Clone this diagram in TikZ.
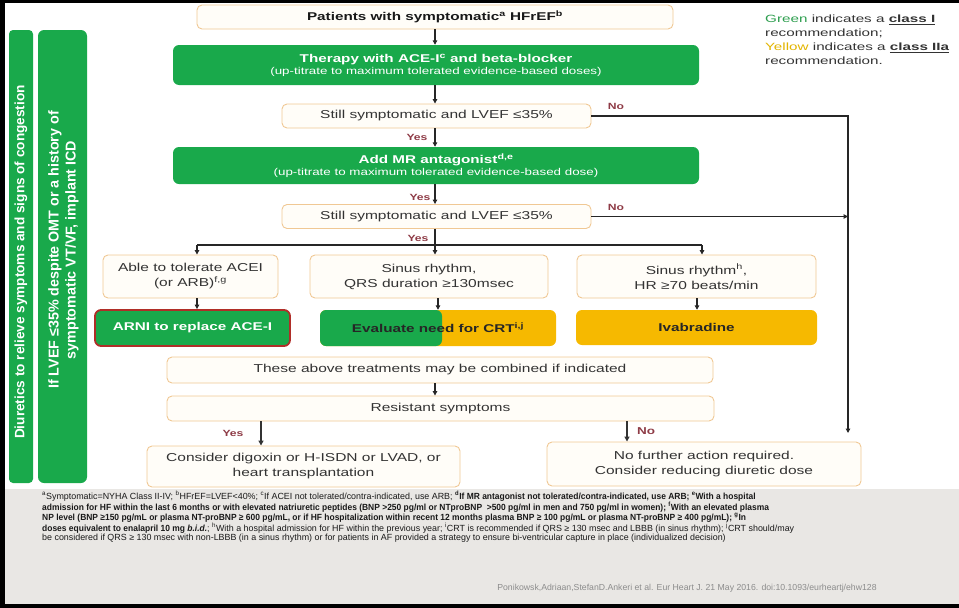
\documentclass[tikz,border=0pt]{standalone}
\usepackage{fontspec}
\setmainfont{Liberation Sans}
\newfontfamily\wf{Liberation Sans}[FakeStretch=1.35]
\newfontfamily\wfl{Liberation Sans}[FakeStretch=1.45]
\newfontfamily\fnf{Liberation Sans}[BoldFeatures={FakeStretch=0.95},BoldItalicFeatures={FakeStretch=0.95}]
\usetikzlibrary{arrows.meta}
\definecolor{hfgreen}{HTML}{19A94B}
\definecolor{hfyellow}{HTML}{F6B900}
\definecolor{boxline}{HTML}{F0C894}
\definecolor{boxfill}{HTML}{FFFDF8}
\definecolor{lblred}{HTML}{8E3B46}
\definecolor{fnbg}{HTML}{E9E7E4}
\definecolor{arnired}{HTML}{B02E28}
\definecolor{txtgray}{HTML}{333333}
\definecolor{legyellow}{HTML}{E2B400}
\definecolor{leggreen}{HTML}{2E9E4F}
\begin{document}
\begin{tikzpicture}[x=1pt,y=-1pt,
  pbox/.style={draw=boxline, fill=boxfill, rounded corners=5pt, line width=0.9pt, inner sep=0pt,
    text=txtgray, align=center, font=\wf\fontsize{11.5}{15}\selectfont},
  gbox/.style={fill=hfgreen, rounded corners=6pt, inner sep=0pt, text=white, align=center,
    font=\wf\bfseries\fontsize{11.3}{13}\selectfont},
  ybox/.style={fill=hfyellow, rounded corners=6pt, inner sep=0pt, text=black!85, align=center,
    font=\wf\bfseries\fontsize{11.3}{13}\selectfont},
  arr/.style={-{Triangle[length=4.5pt,width=4.5pt]}, line width=1.2pt, draw=black!85},
  arrthick/.style={-{Triangle[length=5pt,width=5pt]}, line width=2pt, draw=black!80},
  ln/.style={line width=1.2pt, draw=black!85},
  lbl/.style={text=lblred, font=\wf\bfseries\fontsize{9}{10}\selectfont, inner sep=0pt},
  bartxt/.style={rotate=90, text=white, align=center}
]
\useasboundingbox (0,0) rectangle (959,608);
% frame and footnote area
\fill[fnbg] (5,489) rectangle (959,604);
\fill[black] (0,0) rectangle (959,3);
\fill[black] (0,0) rectangle (5,608);
\fill[black] (0,604) rectangle (959,608);

% vertical green bars
\node[fill=hfgreen, rounded corners=4pt, minimum width=24, minimum height=453, inner sep=0pt] (bar1) at (21,256.5) {};
\node[fill=hfgreen, rounded corners=6pt, minimum width=49, minimum height=453, inner sep=0pt] (bar2) at (62.5,256.5) {};
\node[bartxt, font=\bfseries\fontsize{13.6}{16.5}\selectfont] (bar1t) at (21,262) {Diuretics to relieve symptoms and signs of congestion};
\node[bartxt, font=\bfseries\fontsize{14.3}{17}\selectfont] (bar2t) at (63.5,250) {If LVEF ≤35\% despite OMT or a history of\\symptomatic VT/VF, implant ICD};

% legend
\node[anchor=north west, align=left, inner sep=0pt, text=txtgray,
  font=\wfl\fontsize{10.5}{14}\selectfont] (legend) at (765,15)
  {\textcolor{leggreen}{Green} indicates a \textbf{\underline{class I}}\\
   recommendation;\\
   \textcolor{legyellow}{Yellow} indicates a \textbf{\underline{class IIa}}\\
   recommendation.};

% flowchart boxes
\node[pbox, minimum width=476, minimum height=24, font=\wf\bfseries\fontsize{11.3}{13}\selectfont, text=black!90] (p1) at (435,17)
  {Patients with symptomatic\textsuperscript{a} HFrEF\textsuperscript{b}};
\node[gbox, minimum width=526, minimum height=40] (g1) at (436,65)
  {Therapy with ACE-I\textsuperscript{c} and beta-blocker\\[-1pt]
   {\mdseries\fontsize{9.9}{11}\selectfont (up-titrate to maximum tolerated evidence-based doses)}};
\node[pbox, minimum width=309, minimum height=24] (s1) at (436.5,116)
  {Still symptomatic and LVEF ≤35\%};
\node[gbox, minimum width=526, minimum height=37] (g2) at (436,165.5)
  {Add MR antagonist\textsuperscript{d,e}\\[-1pt]
   {\mdseries\fontsize{9.9}{11}\selectfont (up-titrate to maximum tolerated evidence-based dose)}};
\node[pbox, minimum width=309, minimum height=24] (s2) at (436.5,216.5)
  {Still symptomatic and LVEF ≤35\%};

\node[pbox, minimum width=175, minimum height=43] (able) at (190.5,276.5)
  {Able to tolerate ACEI\\(or ARB)\textsuperscript{f,g}};
\node[pbox, minimum width=238, minimum height=43] (qrs) at (429,276.5)
  {Sinus rhythm,\\QRS duration ≥130msec};
\node[pbox, minimum width=239, minimum height=43] (hr) at (696.5,276.5)
  {Sinus rhythm\textsuperscript{h},\\HR ≥70 beats/min};

\node[gbox, draw=arnired, line width=1.8pt, minimum width=195, minimum height=36] (arni) at (192.5,328)
  {ARNI to replace ACE-I};
\node[ybox, minimum width=236, minimum height=36,
  path picture={\fill[hfgreen] (path picture bounding box.south west) rectangle ([xshift=4pt]path picture bounding box.north);}]
  (crt) at (438,328) {Evaluate need for CRT\textsuperscript{i,j}};
\node[ybox, minimum width=241, minimum height=35] (ivab) at (696.5,327.5) {Ivabradine};

\node[pbox, minimum width=546, minimum height=26] (comb) at (440,370)
  {These above treatments may be combined if indicated};
\node[pbox, minimum width=547, minimum height=25] (res) at (440.5,408.5)
  {Resistant symptoms};
\node[pbox, minimum width=313, minimum height=41] (cons) at (303.5,466.5)
  {Consider digoxin or H-ISDN or LVAD, or\\heart transplantation};
\node[pbox, minimum width=314, minimum height=44] (nofur) at (704,464)
  {No further action required.\\Consider reducing diuretic dose};

% helper coordinates
\coordinate (mc) at (435,0);
\coordinate (bl) at (197,245);
\coordinate (bm) at (435,245);
\coordinate (br) at (702,245);
\coordinate (rcor) at (848,116);
\coordinate (rend) at (848,433);
\coordinate (crtx) at (438,0);
\coordinate (hrx) at (697,0);
\coordinate (ycor) at (261,0);
\coordinate (ncor) at (627,0);

% connectors
\draw[arr] (p1.south -| mc) -- (g1.north -| mc);
\draw[arr] (g1.south -| mc) -- (s1.north -| mc);
\draw[arr] (s1.south -| mc) -- (g2.north -| mc);
\draw[arr] (g2.south -| mc) -- (s2.north -| mc);
\draw[arr] (s2.south -| mc) -- (qrs.north -| mc);
\draw[ln] (bl) -- (br);
\draw[arr] (bl) -- (able.north -| bl);
\draw[arr] (br) -- (hr.north -| br);
\draw[arr] (able.south -| bl) -- (arni.north -| bl);
\draw[arr] (qrs.south -| crtx) -- (crt.north -| crtx);
\draw[arr] (hr.south -| hrx) -- (ivab.north -| hrx);
\draw[arr] (comb.south -| mc) -- (res.north -| mc);
\draw[arr] (s1.east) -- (rcor) -- (rend);
\draw[arr] (s2.east) -- (s2.east -| rcor);
\draw[arrthick] (res.south -| ycor) -- (cons.north -| ycor);
\draw[arrthick] (res.south -| ncor) -- (nofur.north -| ncor);

% labels
\node[lbl] (no1) at (616,106) {No};
\node[lbl] (no2) at (616,207) {No};
\node[lbl] (yes1) at (417,137) {Yes};
\node[lbl] (yes2) at (420,197) {Yes};
\node[lbl] (yes3) at (418,238) {Yes};
\node[lbl] (yes4) at (233,433) {Yes};
\node[lbl, font=\wf\bfseries\fontsize{10}{11}\selectfont] (no3) at (646,431) {No};

% footnotes
\node[anchor=north west, align=left, inner sep=0pt, text=black!90,
  font=\fnf\fontsize{8.9}{9.4}\selectfont] (fn) at (42,491)
{\textsuperscript{a}Symptomatic=NYHA Class II-IV; \textsuperscript{b}HFrEF=LVEF<40\%; \textsuperscript{c}If ACEI not tolerated/contra-indicated, use ARB; \textbf{\textsuperscript{d}If MR antagonist not tolerated/contra-indicated, use ARB; \textsuperscript{e}With a hospital}\\
\textbf{admission for HF within the last 6 months or with elevated natriuretic peptides (BNP >250 pg/ml or NTproBNP \ >500 pg/ml in men and 750 pg/ml in women); \textsuperscript{f}With an elevated plasma}\\
\textbf{NP level (BNP ≥150 pg/mL or plasma NT-proBNP ≥ 600 pg/mL, or if HF hospitalization within recent 12 months plasma BNP ≥ 100 pg/mL or plasma NT-proBNP ≥ 400 pg/mL); \textsuperscript{g}In}\\
\textbf{doses equivalent to enalapril 10 mg \textit{b.i.d.}}; \textsuperscript{h}With a hospital admission for HF within the previous year; \textsuperscript{i}CRT is recommended if QRS ≥ 130 msec and LBBB (in sinus rhythm); \textsuperscript{j}CRT should/may\\
be considered if QRS ≥ 130 msec with non-LBBB (in a sinus rhythm) or for patients in AF provided a strategy to ensure bi-ventricular capture in place (individualized decision)};

\node[text=black!45, font=\fontsize{8.7}{10}\selectfont, inner sep=0pt] (cite) at (687,588)
  {Ponikowsk,Adriaan,StefanD.Ankeri et al. Eur Heart J. 21 May 2016. doi:10.1093/eurheartj/ehw128};
\end{tikzpicture}
\end{document}
